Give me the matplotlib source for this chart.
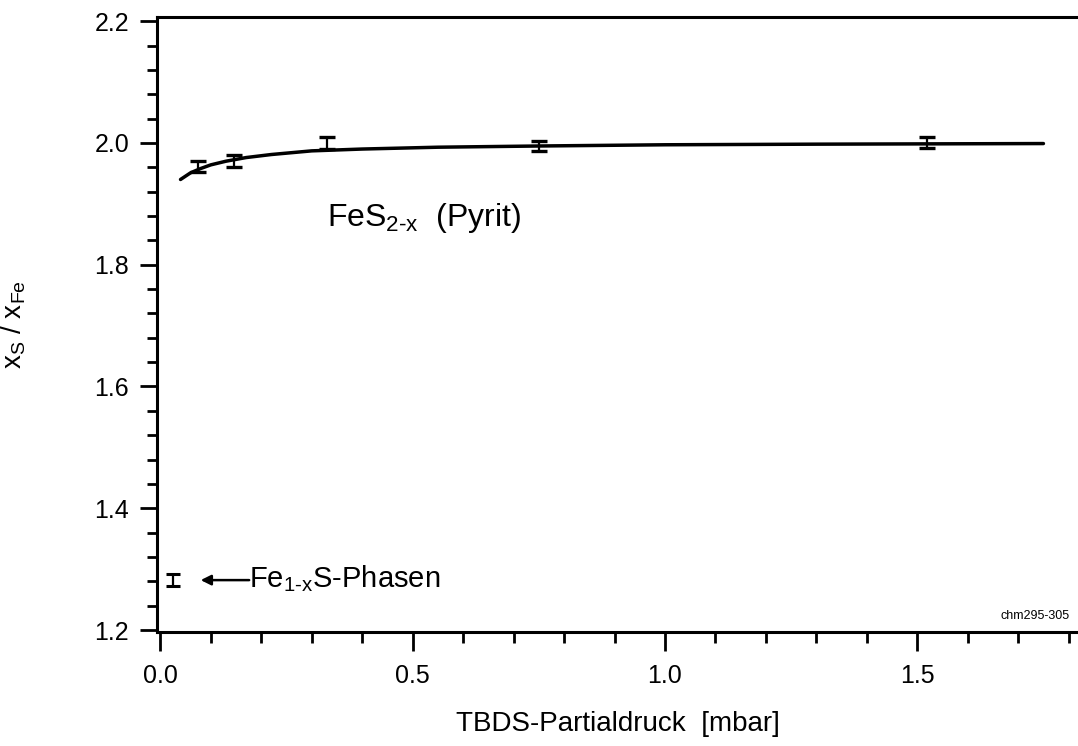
import matplotlib
matplotlib.use("Agg")
import matplotlib.pyplot as plt
from matplotlib.ticker import MultipleLocator, FormatStrFormatter

# ---- data ----
pressure = [0.075, 0.145, 0.33, 0.75, 1.52]          # mbar
ratio = [1.962, 1.970, 2.000, 1.995, 2.000]         # xS / xFe
ratio_err = [0.009, 0.010, 0.010, 0.009, 0.009]

fit_x = [0.04, 0.06, 0.08, 0.10, 0.13, 0.17, 0.22, 0.30, 0.40, 0.55, 0.75, 1.00, 1.30, 1.75]
fit_y = [1.940, 1.951, 1.958, 1.964, 1.970, 1.976, 1.981, 1.987, 1.990, 1.993, 1.995, 1.997, 1.998, 1.999]

phase_x = [0.025]
phase_y = [1.282]
phase_err = [0.010]

x_major = [0.0, 0.5, 1.0, 1.5]
y_major = [1.2, 1.4, 1.6, 1.8, 2.0, 2.2]

plt.rcParams['font.family'] = ['Liberation Sans', 'DejaVu Sans']
plt.rcParams['mathtext.default'] = 'regular'

fig = plt.figure(figsize=(10.78, 7.46), dpi=100)
ax = fig.add_axes([0.1456, 0.153, 0.8544, 0.824])

ax.plot(fit_x, fit_y, color='black', lw=2.5, solid_capstyle='round')
ax.errorbar(pressure, ratio, yerr=ratio_err, fmt='none', ecolor='black',
            elinewidth=1.6, capsize=5.5, capthick=2.4)
ax.errorbar(phase_x, phase_y, yerr=phase_err, fmt='none', ecolor='black',
            elinewidth=1.6, capsize=5, capthick=2.2)

ax.set_xlim(-0.0067, 1.8185)
ax.set_ylim(1.197, 2.2066)

ax.set_xticks(x_major)
ax.set_yticks(y_major)
ax.xaxis.set_major_formatter(FormatStrFormatter('%.1f'))
ax.yaxis.set_major_formatter(FormatStrFormatter('%.1f'))
ax.xaxis.set_minor_locator(MultipleLocator(0.1))
ax.yaxis.set_minor_locator(MultipleLocator(0.04))
ax.tick_params(axis='x', which='major', direction='out', length=14, width=2.0,
               labelsize=18, pad=9)
ax.tick_params(axis='x', which='minor', direction='out', length=8, width=2.0)
ax.tick_params(axis='y', which='major', direction='out', length=12, width=2.0,
               labelsize=18, pad=8)
ax.tick_params(axis='y', which='minor', direction='out', length=7, width=2.0)

for side in ['left', 'bottom', 'top']:
    ax.spines[side].set_linewidth(2.2)
ax.spines['right'].set_visible(False)

ax.set_xlabel('TBDS-Partialdruck  [mbar]', fontsize=20)
ax.xaxis.set_label_coords(0.5, -0.128)
ax.set_ylabel('x$_S$ / x$_{Fe}$', fontsize=20)
ax.yaxis.set_label_coords(-0.14, 0.5)

ax.text(0.33, 1.864, 'FeS$_{2\u2010x}$  (Pyrit)', fontsize=23, va='baseline', ha='left')
ax.annotate('', xy=(0.080, 1.282), xytext=(0.176, 1.282),
            arrowprops=dict(arrowstyle='-|>', color='black', lw=1.8,
                            mutation_scale=15, shrinkA=0, shrinkB=0))
ax.text(0.176, 1.285, 'Fe$_{1\u2010x}$S-Phasen', fontsize=21, va='center', ha='left')
ax.text(1.802, 1.214, 'chm295-305', fontsize=9, ha='right', va='bottom')

fig.savefig('out.png', dpi=100)
